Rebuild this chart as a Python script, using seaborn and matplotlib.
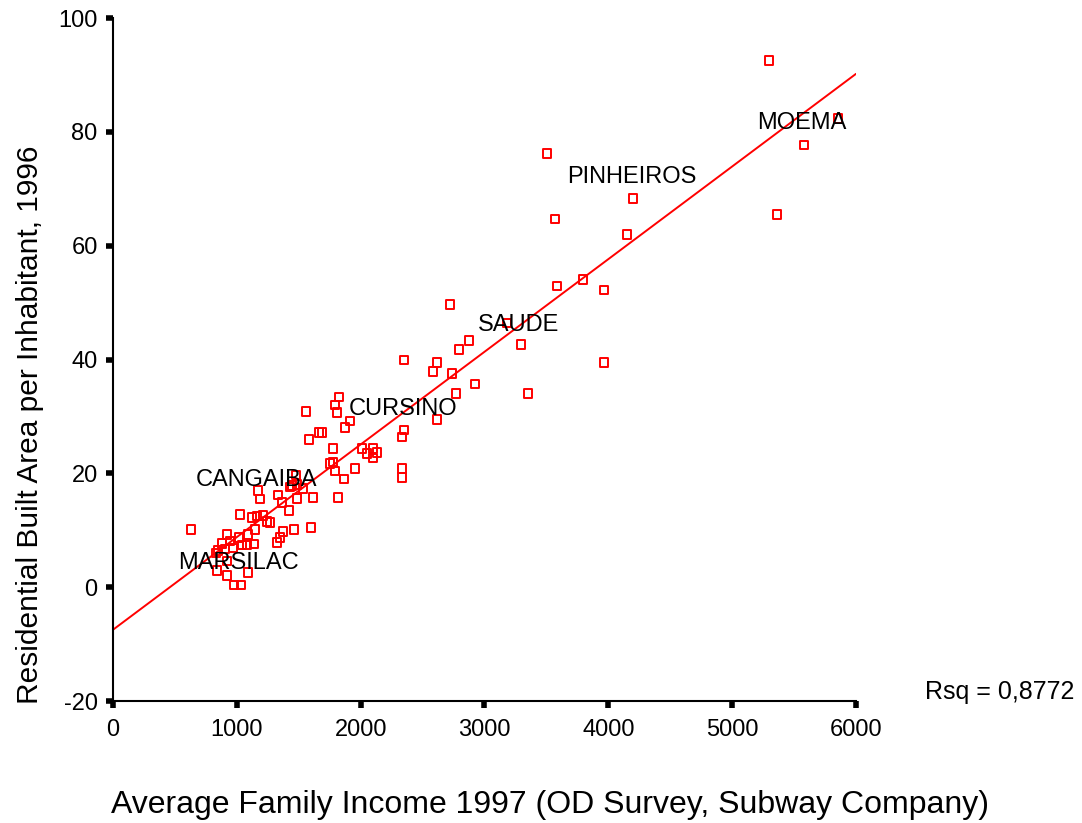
import matplotlib
matplotlib.use("Agg")
import matplotlib.pyplot as plt
import seaborn as sns

# ---- data ----
income = [
    5298, 5855, 5580, 5362, 3505, 4199, 3569, 4151, 3795, 3585,
    3965, 2721, 3182, 2875, 2794, 3295, 2350, 2616, 3965, 2584,
    2738, 2923, 2770, 3351, 1825, 1793, 1809, 1559, 2616, 1914,
    1873, 2350, 1688, 1664, 2334, 1583, 1777, 2011, 2100, 2051,
    2132, 2100, 1752, 1777, 1954, 2334, 1793, 1865, 2334, 1478,
    1446, 1486, 1429, 1171, 1534, 1187, 1332, 1486, 1615, 1817,
    1365, 1421, 1026, 1122, 1163, 1211, 1268, 1244, 630, 1147,
    1373, 1462, 1599, 921, 1090, 1018, 1349, 1324, 880, 945,
    969, 1042, 1082, 1139, 848, 904, 832, 921, 840, 921,
    1090, 977, 1034,
]
built_area = [
    92.6, 82.4, 77.7, 65.5, 76.2, 68.3, 64.7, 62.0, 54.1, 52.9,
    52.2, 49.7, 46.4, 43.4, 41.8, 42.7, 39.9, 39.5, 39.5, 37.9,
    37.6, 35.7, 34.1, 34.1, 33.4, 32.0, 30.7, 30.9, 29.5, 29.2,
    28.1, 27.6, 27.2, 27.2, 26.4, 26.0, 24.4, 24.4, 24.4, 23.5,
    23.7, 22.7, 21.8, 22.0, 20.9, 20.9, 20.4, 19.0, 19.3, 19.7,
    17.9, 18.1, 17.6, 17.0, 17.4, 15.5, 16.2, 15.6, 15.8, 15.8,
    14.9, 13.5, 12.8, 12.3, 12.5, 12.6, 11.4, 11.6, 10.2, 10.2,
    9.8, 10.2, 10.5, 9.3, 9.3, 8.8, 8.8, 7.9, 7.7, 8.1,
    6.9, 7.4, 7.4, 7.6, 6.5, 6.7, 6.0, 4.6, 3.0, 2.1,
    2.6, 0.4, 0.4,
]

district_names = ["CANGAIBA", "MARSILAC", "CURSINO", "SAUDE", "PINHEIROS", "MOEMA"]
district_x = [670, 525, 1906, 2948, 3666, 5201]
district_y = [18.8, 4.2, 31.3, 46.0, 72.0, 81.5]

x_ticks = [0, 1000, 2000, 3000, 4000, 5000, 6000]
y_ticks = [-20, 0, 20, 40, 60, 80, 100]
rsq_text = "Rsq = 0,8772"

RED = "#FF0000"

sns.set_style("white")
plt.rcParams["font.family"] = ["Liberation Sans", "DejaVu Sans"]
plt.rcParams["text.color"] = "black"

fig = plt.figure(figsize=(10.82, 8.23), dpi=100)
ax = fig.add_axes([0.1044, 0.1482, 0.6867, 0.8299])

sns.scatterplot(x=income, y=built_area, marker="s", s=40, facecolors="none",
                edgecolor=RED, linewidth=1.4, ax=ax, zorder=3)

ax.set_xlim(0, 6000)
ax.set_ylim(-20, 100)
sns.regplot(x=income, y=built_area, scatter=False, ci=None, truncate=False,
            color=RED, line_kws={"linewidth": 1.4}, ax=ax)
ax.set_xlim(0, 6000)
ax.set_ylim(-20, 100)

for name, xv, yv in zip(district_names, district_x, district_y):
    ax.text(xv, yv, name, fontsize=17, ha="left", va="center", color="black", zorder=4)

ax.set_xticks(x_ticks)
ax.set_yticks(y_ticks)
ax.set_xticklabels([str(t) for t in x_ticks])
ax.set_yticklabels([str(t) for t in y_ticks])
ax.tick_params(axis="both", direction="out", length=5, width=4, color="black",
               labelsize=17, labelcolor="black", bottom=True, left=True)
ax.tick_params(axis="x", pad=8)
ax.tick_params(axis="y", pad=6)

sns.despine(ax=ax)
for side in ["left", "bottom"]:
    ax.spines[side].set_color("black")
    ax.spines[side].set_linewidth(1.5)

ax.set_xlabel("")
ax.set_ylabel("")
fig.text(0.508, 0.022, "Average Family Income 1997 (OD Survey, Subway Company)",
         fontsize=23, ha="center", va="center", color="black")
fig.text(0.028, 0.484, "Residential Built Area per Inhabitant, 1996",
         fontsize=21.5, rotation=90, ha="center", va="center", color="black")
fig.text(0.855, 0.159, rsq_text, fontsize=18, ha="left", va="center", color="black")

fig.savefig("out.png", dpi=100, facecolor="white")
